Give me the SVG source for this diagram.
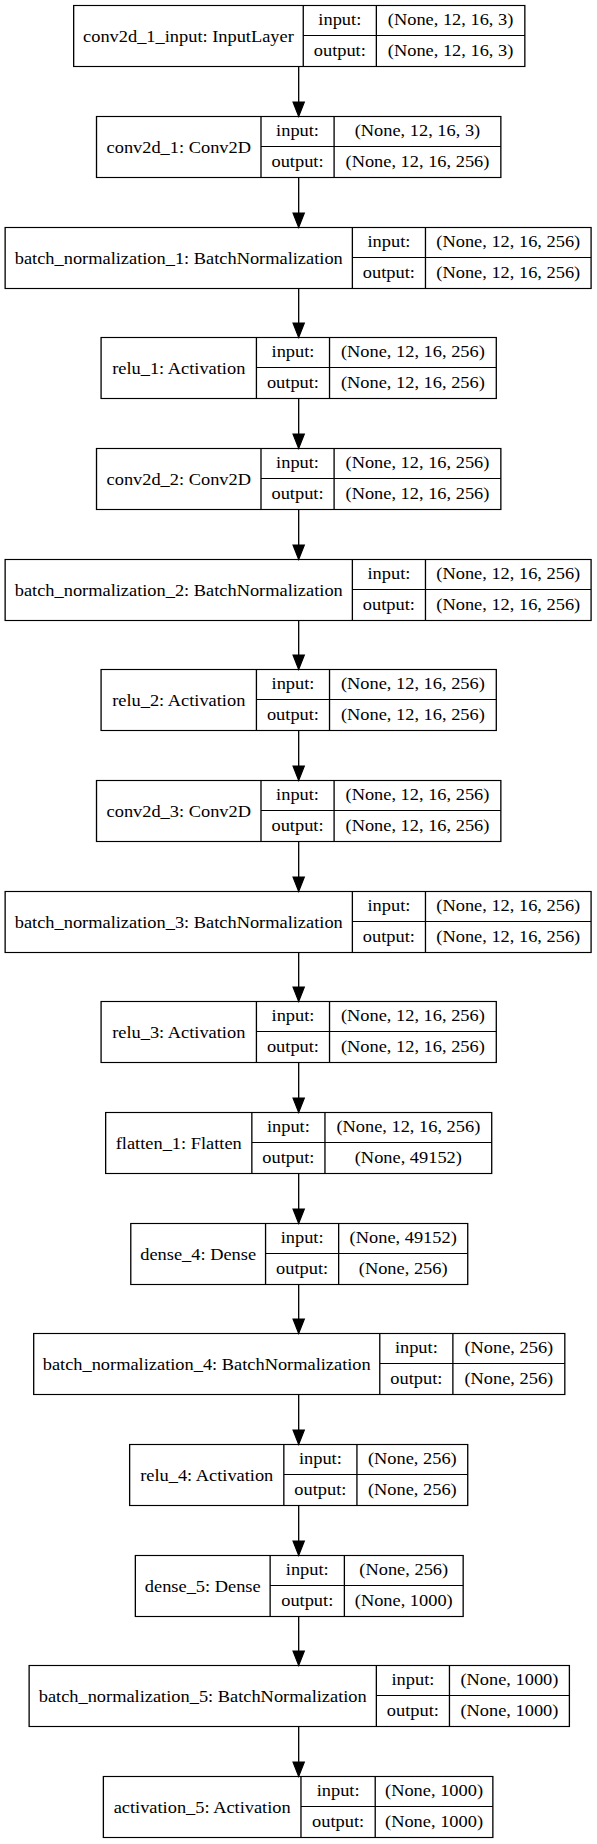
<svg xmlns="http://www.w3.org/2000/svg" width="597" height="1844" viewBox="0 0 597 1844">
<style>
.b{fill:none;stroke:#000;stroke-width:1.15}
text{font-family:"Liberation Serif","Times New Roman",serif;font-size:16.1px;fill:#000;text-anchor:middle}
.e{stroke:#000;stroke-width:1.15;fill:none}
.h{fill:#000;stroke:#000;stroke-width:1}
</style>
<rect width="597" height="1844" fill="#fff"/>
<g transform="scale(1.1422,1)">
<g id="n1"><rect class="b" x="64.5" y="5.5" width="395" height="61"/><path class="b" d="M265.5 5.5V66.5M329.5 5.5V66.5M265.5 35.5H459.5"/><text x="165" y="42">conv2d_1_input: InputLayer</text><text x="297.5" y="25">input:</text><text x="394.5" y="25">(None, 12, 16, 3)</text><text x="297.5" y="56">output:</text><text x="394.5" y="56">(None, 12, 16, 3)</text></g>
<g id="n2"><rect class="b" x="84.5" y="116.5" width="354" height="61"/><path class="b" d="M228.5 116.5V177.5M292.5 116.5V177.5M228.5 146.5H438.5"/><text x="156.5" y="153">conv2d_1: Conv2D</text><text x="260.5" y="136">input:</text><text x="365.5" y="136">(None, 12, 16, 3)</text><text x="260.5" y="167">output:</text><text x="365.5" y="167">(None, 12, 16, 256)</text></g>
<g id="n3"><rect class="b" x="4.5" y="227.5" width="513" height="61"/><path class="b" d="M308.5 227.5V288.5M372.5 227.5V288.5M308.5 257.5H517.5"/><text x="156.5" y="264">batch_normalization_1: BatchNormalization</text><text x="340.5" y="247">input:</text><text x="445" y="247">(None, 12, 16, 256)</text><text x="340.5" y="278">output:</text><text x="445" y="278">(None, 12, 16, 256)</text></g>
<g id="n4"><rect class="b" x="88.5" y="337.5" width="346" height="61"/><path class="b" d="M224.5 337.5V398.5M288.5 337.5V398.5M224.5 367.5H434.5"/><text x="156.5" y="374">relu_1: Activation</text><text x="256.5" y="357">input:</text><text x="361.5" y="357">(None, 12, 16, 256)</text><text x="256.5" y="388">output:</text><text x="361.5" y="388">(None, 12, 16, 256)</text></g>
<g id="n5"><rect class="b" x="84.5" y="448.5" width="354" height="61"/><path class="b" d="M228.5 448.5V509.5M292.5 448.5V509.5M228.5 478.5H438.5"/><text x="156.5" y="485">conv2d_2: Conv2D</text><text x="260.5" y="468">input:</text><text x="365.5" y="468">(None, 12, 16, 256)</text><text x="260.5" y="499">output:</text><text x="365.5" y="499">(None, 12, 16, 256)</text></g>
<g id="n6"><rect class="b" x="4.5" y="559.5" width="513" height="61"/><path class="b" d="M308.5 559.5V620.5M372.5 559.5V620.5M308.5 589.5H517.5"/><text x="156.5" y="596">batch_normalization_2: BatchNormalization</text><text x="340.5" y="579">input:</text><text x="445" y="579">(None, 12, 16, 256)</text><text x="340.5" y="610">output:</text><text x="445" y="610">(None, 12, 16, 256)</text></g>
<g id="n7"><rect class="b" x="88.5" y="669.5" width="346" height="61"/><path class="b" d="M224.5 669.5V730.5M288.5 669.5V730.5M224.5 699.5H434.5"/><text x="156.5" y="706">relu_2: Activation</text><text x="256.5" y="689">input:</text><text x="361.5" y="689">(None, 12, 16, 256)</text><text x="256.5" y="720">output:</text><text x="361.5" y="720">(None, 12, 16, 256)</text></g>
<g id="n8"><rect class="b" x="84.5" y="780.5" width="354" height="61"/><path class="b" d="M228.5 780.5V841.5M292.5 780.5V841.5M228.5 810.5H438.5"/><text x="156.5" y="817">conv2d_3: Conv2D</text><text x="260.5" y="800">input:</text><text x="365.5" y="800">(None, 12, 16, 256)</text><text x="260.5" y="831">output:</text><text x="365.5" y="831">(None, 12, 16, 256)</text></g>
<g id="n9"><rect class="b" x="4.5" y="891.5" width="513" height="61"/><path class="b" d="M308.5 891.5V952.5M372.5 891.5V952.5M308.5 921.5H517.5"/><text x="156.5" y="928">batch_normalization_3: BatchNormalization</text><text x="340.5" y="911">input:</text><text x="445" y="911">(None, 12, 16, 256)</text><text x="340.5" y="942">output:</text><text x="445" y="942">(None, 12, 16, 256)</text></g>
<g id="n10"><rect class="b" x="88.5" y="1001.5" width="346" height="61"/><path class="b" d="M224.5 1001.5V1062.5M288.5 1001.5V1062.5M224.5 1031.5H434.5"/><text x="156.5" y="1038">relu_3: Activation</text><text x="256.5" y="1021">input:</text><text x="361.5" y="1021">(None, 12, 16, 256)</text><text x="256.5" y="1052">output:</text><text x="361.5" y="1052">(None, 12, 16, 256)</text></g>
<g id="n11"><rect class="b" x="92.5" y="1112.5" width="338" height="61"/><path class="b" d="M220.5 1112.5V1173.5M284.5 1112.5V1173.5M220.5 1142.5H430.5"/><text x="156.5" y="1149">flatten_1: Flatten</text><text x="252.5" y="1132">input:</text><text x="357.5" y="1132">(None, 12, 16, 256)</text><text x="252.5" y="1163">output:</text><text x="357.5" y="1163">(None, 49152)</text></g>
<g id="n12"><rect class="b" x="114.5" y="1223.5" width="295" height="61"/><path class="b" d="M232.5 1223.5V1284.5M296.5 1223.5V1284.5M232.5 1253.5H409.5"/><text x="173.5" y="1260">dense_4: Dense</text><text x="264.5" y="1243">input:</text><text x="353" y="1243">(None, 49152)</text><text x="264.5" y="1274">output:</text><text x="353" y="1274">(None, 256)</text></g>
<g id="n13"><rect class="b" x="29.5" y="1333.5" width="465" height="61"/><path class="b" d="M332.5 1333.5V1394.5M396.5 1333.5V1394.5M332.5 1363.5H494.5"/><text x="181" y="1370">batch_normalization_4: BatchNormalization</text><text x="364.5" y="1353">input:</text><text x="445.5" y="1353">(None, 256)</text><text x="364.5" y="1384">output:</text><text x="445.5" y="1384">(None, 256)</text></g>
<g id="n14"><rect class="b" x="113.5" y="1444.5" width="296" height="61"/><path class="b" d="M248.5 1444.5V1505.5M312.5 1444.5V1505.5M248.5 1474.5H409.5"/><text x="181" y="1481">relu_4: Activation</text><text x="280.5" y="1464">input:</text><text x="361" y="1464">(None, 256)</text><text x="280.5" y="1495">output:</text><text x="361" y="1495">(None, 256)</text></g>
<g id="n15"><rect class="b" x="118.5" y="1555.5" width="287" height="61"/><path class="b" d="M236.5 1555.5V1616.5M301.5 1555.5V1616.5M236.5 1585.5H405.5"/><text x="177.5" y="1592">dense_5: Dense</text><text x="269" y="1575">input:</text><text x="353.5" y="1575">(None, 256)</text><text x="269" y="1606">output:</text><text x="353.5" y="1606">(None, 1000)</text></g>
<g id="n16"><rect class="b" x="25.5" y="1665.5" width="473" height="61"/><path class="b" d="M329.5 1665.5V1726.5M393.5 1665.5V1726.5M329.5 1695.5H498.5"/><text x="177.5" y="1702">batch_normalization_5: BatchNormalization</text><text x="361.5" y="1685">input:</text><text x="446" y="1685">(None, 1000)</text><text x="361.5" y="1716">output:</text><text x="446" y="1716">(None, 1000)</text></g>
<g id="n17"><rect class="b" x="90.5" y="1776.5" width="341" height="61"/><path class="b" d="M263.5 1776.5V1837.5M328.5 1776.5V1837.5M263.5 1806.5H431.5"/><text x="177" y="1813">activation_5: Activation</text><text x="296" y="1796">input:</text><text x="380" y="1796">(None, 1000)</text><text x="296" y="1827">output:</text><text x="380" y="1827">(None, 1000)</text></g>
<g id="edges">
<path class="e" d="M261.5 66.5V102.5M261.5 177.5V213.5M261.5 288.5V323.5M261.5 398.5V434.5M261.5 509.5V545.5M261.5 620.5V655.5M261.5 730.5V766.5M261.5 841.5V877.5M261.5 952.5V987.5M261.5 1062.5V1098.5M261.5 1173.5V1209.5M261.5 1284.5V1319.5M261.5 1394.5V1430.5M261.5 1505.5V1541.5M261.5 1616.5V1651.5M261.5 1726.5V1762.5"/>
<path class="h" d="M256.5 102L266.5 102L261.5 116.5ZM256.5 213L266.5 213L261.5 227.5ZM256.5 323L266.5 323L261.5 337.5ZM256.5 434L266.5 434L261.5 448.5ZM256.5 545L266.5 545L261.5 559.5ZM256.5 655L266.5 655L261.5 669.5ZM256.5 766L266.5 766L261.5 780.5ZM256.5 877L266.5 877L261.5 891.5ZM256.5 987L266.5 987L261.5 1001.5ZM256.5 1098L266.5 1098L261.5 1112.5ZM256.5 1209L266.5 1209L261.5 1223.5ZM256.5 1319L266.5 1319L261.5 1333.5ZM256.5 1430L266.5 1430L261.5 1444.5ZM256.5 1541L266.5 1541L261.5 1555.5ZM256.5 1651L266.5 1651L261.5 1665.5ZM256.5 1762L266.5 1762L261.5 1776.5Z"/>
</g>
</g>
</svg>
